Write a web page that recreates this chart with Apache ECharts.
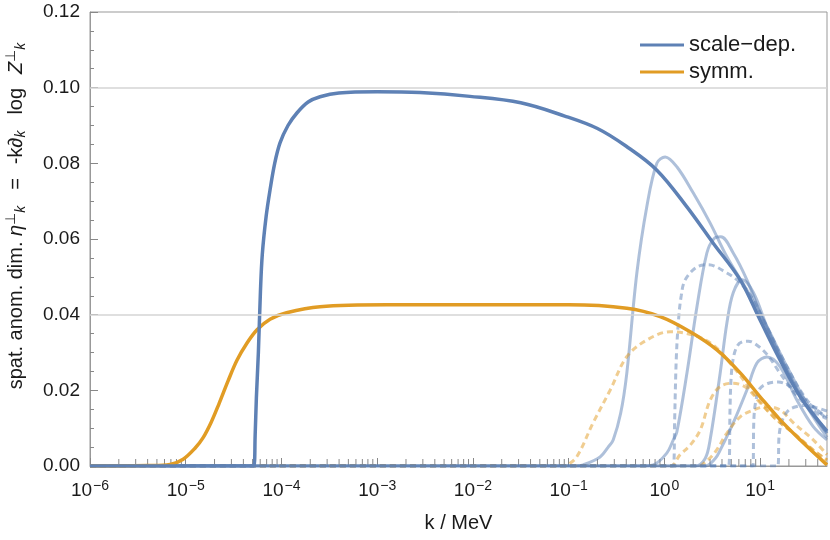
<!DOCTYPE html>
<html>
<head>
<meta charset="utf-8">
<script src="https://cdn.jsdelivr.net/npm/echarts@6/dist/echarts.min.js"></script>
<style>
html,body{margin:0;padding:0;background:#fff;}
#chart{width:830px;height:540px;}
</style>
</head>
<body>
<div id="chart"></div>
<script>
// ---------- data ----------
const xMin = 1e-6, xMax = 50;
const gridLineValues = [0.0989, 0.0426];

// main solid curves
const kBlue = [1e-6, 5.13e-5, 5.31e-5, 5.47e-5, 5.74e-5, 6.03e-5, 6.31e-5, 6.92e-5, 7.6e-5, 8.5e-5, 9.66e-5, 1.17e-4, 1.45e-4, 1.9e-4, 2.53e-4, 3.98e-4, 1e-3, 2.8e-3, 9.3e-3, 0.0316, 0.091, 0.2, 0.4, 0.835, 1.72, 3.24, 6.2, 10, 16.2, 26.3, 50];
const vBlue = [0, 0, 0.008, 0.018, 0.030, 0.046, 0.056, 0.066, 0.073, 0.080, 0.0854, 0.090, 0.0933, 0.0962, 0.0976, 0.0986, 0.0989, 0.0987, 0.0977, 0.0960, 0.0925, 0.0892, 0.0845, 0.0782, 0.0685, 0.0589, 0.0492, 0.0386, 0.0280, 0.0183, 0.0092];

const kOrange = [1e-6, 2e-6, 4e-6, 6.85e-6, 9.4e-6, 1.25e-5, 1.52e-5, 1.84e-5, 2.23e-5, 2.77e-5, 3.44e-5, 4.37e-5, 5.56e-5, 7.6e-5, 1.13e-4, 2.53e-4, 1.26e-3, 0.1, 0.405, 0.904, 1.86, 3.54, 6.2, 10, 16.2, 26.3, 50];
const vOrange = [0, 0, 0.0001, 0.0004, 0.0018, 0.0047, 0.0075, 0.0115, 0.0165, 0.0225, 0.0280, 0.0325, 0.0360, 0.0388, 0.0405, 0.0421, 0.0426, 0.0426, 0.0417, 0.0395, 0.0355, 0.0307, 0.0246, 0.0183, 0.0122, 0.0069, 0.0003];

// light solid blue curves
const kL1 = [1e-6, 0.12, 0.142, 0.213, 0.259, 0.292, 0.35, 0.405, 0.516, 0.656, 0.835, 1.02, 1.35, 2.0, 3.01, 4.5, 7.28, 11.8, 19.05, 30.8, 50];
const vL1 = [0, 0, 0.0003, 0.0024, 0.005, 0.0069, 0.014, 0.0245, 0.051, 0.0686, 0.080, 0.0817, 0.0791, 0.0722, 0.0642, 0.0553, 0.0465, 0.0368, 0.0263, 0.0166, 0.0087];
const kL2 = [1e-6, 0.558, 0.764, 1.06, 1.24, 1.35, 1.72, 2.19, 2.78, 3.3, 3.89, 5.24, 7.28, 10, 16.2, 26.3, 50];
const vL2 = [0, 0, 0.0003, 0.0034, 0.0069, 0.009, 0.0245, 0.0421, 0.0563, 0.0601, 0.0606, 0.0563, 0.0492, 0.0404, 0.0289, 0.0183, 0.0087];
const kL3 = [1e-6, 2.1, 2.67, 3.01, 3.83, 4.5, 5.24, 6.5, 8.53, 11.8, 19.05, 30.8, 50];
const vL3 = [0, 0, 0.002, 0.007, 0.0246, 0.0378, 0.0458, 0.0492, 0.0458, 0.0368, 0.0254, 0.0157, 0.0075];
const kL4 = [1e-6, 2.67, 3.4, 3.83, 5.24, 7.28, 9.27, 11.8, 16.2, 24.3, 35.9, 50];
const vL4 = [0, 0, 0.002, 0.0042, 0.0114, 0.0201, 0.0272, 0.0288, 0.0262, 0.0174, 0.0104, 0.0069];

// light dotted blue curves
const kD1 = [1e-6, 1.24, 1.28, 1.33, 1.4, 1.5, 1.65, 2.19, 2.87, 4.5, 6.2, 8.53, 11.8, 19.05, 30.8, 50];
const vD1 = [0, 0, 0.012, 0.028, 0.038, 0.045, 0.0492, 0.0526, 0.0532, 0.0510, 0.0484, 0.0439, 0.0368, 0.0263, 0.0175, 0.0125];
const kD2 = [1e-6, 4.7, 4.85, 5.0, 5.3, 5.8, 6.5, 7.5, 9, 11.8, 16.2, 24.3, 35.9, 50];
const vD2 = [0, 0, 0.015, 0.024, 0.029, 0.0318, 0.0328, 0.0330, 0.0322, 0.0295, 0.0245, 0.0185, 0.0145, 0.0125];
const kD3 = [1e-6, 8.4, 8.6, 9, 10, 12, 15.5, 20, 27, 36, 50];
const vD3 = [0, 0, 0.012, 0.017, 0.0205, 0.0218, 0.0222, 0.0212, 0.0185, 0.0155, 0.0130];
const kD4 = [1e-6, 15.3, 15.8, 17, 20, 25, 30, 38, 50];
const vD4 = [0, 0, 0.008, 0.012, 0.0148, 0.0158, 0.0160, 0.0155, 0.0145];

// light dotted orange curves
const kO1 = [1e-6, 0.081, 0.0964, 0.122, 0.18, 0.272, 0.405, 0.656, 1.15, 2.0, 3.24, 5.24, 8.53, 13.8, 22.3, 35.9, 50];
const vO1 = [0, 0, 0.0003, 0.0025, 0.0114, 0.0201, 0.0289, 0.0333, 0.0355, 0.0346, 0.0320, 0.0262, 0.0193, 0.0130, 0.0087, 0.0042, 0.0016];
const kO2 = [1e-6, 1.15, 1.46, 1.86, 2.37, 3.01, 3.83, 5.24, 7.28, 10, 15, 22.3, 35.9, 50];
const vO2 = [0, 0, 0.003, 0.0055, 0.0095, 0.0174, 0.0210, 0.0219, 0.0206, 0.0167, 0.0122, 0.0087, 0.0042, 0.0016];
const kO3 = [1e-6, 2.3, 2.67, 3.4, 4.5, 6.2, 8.53, 11.8, 16.2, 22.3, 35.9, 50];
const vO3 = [0, 0, 0.001, 0.0037, 0.0087, 0.0130, 0.0148, 0.0157, 0.0148, 0.0114, 0.0069, 0.0030];

// minor log ticks (2..9 x 10^n)
const minorTickK = [];
for (let e = -6; e <= 1; e++) for (let m = 2; m <= 9; m++) { const k = m * Math.pow(10, e); if (k < xMax) minorTickK.push(k); }

// ---------- styling ----------
const BLUE = '#5E81B5', ORANGE = '#E19C24';
const LBLUE = 'rgba(94,129,181,0.5)', LORANGE = 'rgba(225,156,36,0.5)';
const FONT = 'Liberation Sans, Arial, sans-serif';
const TXT = '#1a1a1a';
const pairs = (ks, vs) => ks.map((k, i) => [k, vs[i]]);

function lightSeries(name, ks, vs, color, dotted) {
  return {
    name: name, type: 'line', data: pairs(ks, vs), symbol: 'none', showSymbol: false,
    smooth: 0.35, z: 2, silent: true,
    lineStyle: { color: color, width: 3, type: dotted ? [6, 4] : 'solid', cap: 'butt' }
  };
}

const chart = echarts.init(document.getElementById('chart'), null, { renderer: 'canvas' });
const option = {
  animation: false,
  textStyle: { fontFamily: FONT },
  grid: { left: 90, right: 3, top: 12, bottom: 74, show: true, borderColor: '#999', borderWidth: 1, containLabel: false, outerBoundsMode: 'none' },
  legend: {
    data: ['scale-dep.', 'symm.'],
    orient: 'vertical', left: 635, top: 29,
    icon: 'rect', itemWidth: 44, itemHeight: 3, itemGap: 5,
    formatter: n => n.replace('-', '\u2212'),
    textStyle: { fontSize: 22, color: TXT, fontFamily: FONT },
    selectedMode: false
  },
  xAxis: {
    type: 'log', logBase: 10, min: xMin, max: xMax,
    name: 'k / MeV', nameLocation: 'middle', nameGap: 47,
    nameTextStyle: { fontSize: 20, color: TXT, fontFamily: FONT },
    axisLine: { show: true, lineStyle: { color: '#999', width: 1 } },
    axisTick: { show: true, inside: true, length: 8, lineStyle: { color: '#888' } },
    splitLine: { show: false },
    axisLabel: {
      margin: 13, color: TXT, showMaxLabel: false, showMinLabel: true,
      formatter: function (v) {
        const e = Math.round(Math.log10(v));
        return '{b|10}{s|' + (e < 0 ? '\u2212' + (-e) : e) + '}';
      },
      rich: {
        b: { fontSize: 19, color: TXT, fontFamily: FONT },
        s: { fontSize: 14, color: TXT, fontFamily: FONT, padding: [0, 0, 9, 1] }
      }
    }
  },
  yAxis: {
    type: 'value', min: 0, max: 0.12, interval: 0.02,
    name: 'spat. anom. dim. {it|η}{sup|⊥}{sub|k}{sp|}={sp|}-k{it|∂}{sub|k}{sp|}log{sp|}{it|Z}{sup|⊥}{sub|k}',
    nameLocation: 'middle', nameGap: 62, nameRotate: 90,
    nameTextStyle: {
      fontSize: 20, color: TXT, fontFamily: FONT, padding: [0, 0, 0, 48],
      rich: {
        it: { fontSize: 20, fontStyle: 'italic', color: TXT, fontFamily: FONT },
        sub: { fontSize: 14, fontStyle: 'italic', color: TXT, fontFamily: FONT, padding: [10, 2, 0, 0] },
        sup: { fontSize: 14, color: TXT, fontFamily: FONT, padding: [0, 0, 10, 0] },
        sp: { width: 14 }
      }
    },
    axisLine: { show: true, lineStyle: { color: '#999', width: 1 } },
    axisTick: { show: true, inside: true, length: 8, lineStyle: { color: '#888' } },
    minorTick: { show: true, splitNumber: 4, length: 4, lineStyle: { color: '#888' } },
    splitLine: { show: false },
    axisLabel: { margin: 10, fontSize: 19, color: TXT, formatter: v => v.toFixed(2) }
  },
  series: [
    {
      name: 'gridlines', type: 'line', data: [], silent: true, z: 1,
      markLine: {
        silent: true, symbol: 'none', label: { show: false },
        lineStyle: { color: '#d4d4d4', width: 1.5, type: 'solid' },
        data: gridLineValues.map(v => ({ yAxis: v }))
      }
    },
    {
      name: 'minorTicks', type: 'custom', silent: true, z: 1,
      data: minorTickK.map(k => [k, 0]),
      encode: { x: 0, y: 1 },
      renderItem: function (params, api) {
        const p = api.coord([api.value(0), 0]);
        return { type: 'line', shape: { x1: p[0], y1: p[1], x2: p[0], y2: p[1] - 7 }, style: { stroke: '#888', lineWidth: 1 } };
      }
    },
    lightSeries('L1', kL1, vL1, LBLUE, false),
    lightSeries('L2', kL2, vL2, LBLUE, false),
    lightSeries('L3', kL3, vL3, LBLUE, false),
    lightSeries('L4', kL4, vL4, LBLUE, false),
    lightSeries('O1', kO1, vO1, LORANGE, true),
    lightSeries('O2', kO2, vO2, LORANGE, true),
    lightSeries('O3', kO3, vO3, LORANGE, true),
    lightSeries('D1', kD1, vD1, LBLUE, true),
    lightSeries('D2', kD2, vD2, LBLUE, true),
    lightSeries('D3', kD3, vD3, LBLUE, true),
    lightSeries('D4', kD4, vD4, LBLUE, true),
    {
      name: 'symm.', type: 'line', data: pairs(kOrange, vOrange), symbol: 'none', showSymbol: false,
      smooth: 0.35, z: 3, color: ORANGE, itemStyle: { color: ORANGE },
      lineStyle: { color: ORANGE, width: 3.5 }
    },
    {
      name: 'scale-dep.', type: 'line', data: pairs(kBlue, vBlue), symbol: 'none', showSymbol: false,
      smooth: 0.35, z: 3, color: BLUE, itemStyle: { color: BLUE },
      lineStyle: { color: BLUE, width: 3.5 }
    }
  ]
};
chart.setOption(option);
</script>
</body>
</html>
